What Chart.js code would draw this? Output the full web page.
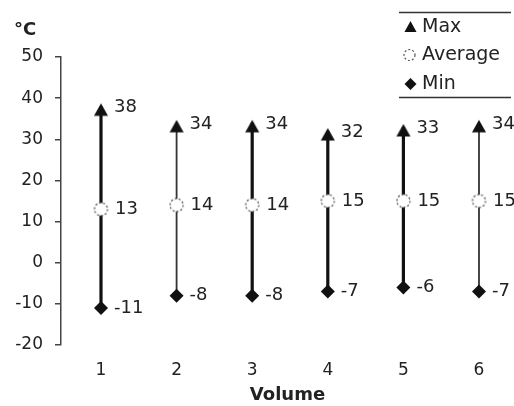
<!DOCTYPE html>
<html>
<head>
<meta charset="utf-8">
<script src="https://cdn.jsdelivr.net/npm/chart.js@4.4.0/dist/chart.umd.min.js"></script>
<style>
    html, body { margin: 0; padding: 0; background: #fff; }
    canvas { display: block; }
</style>
</head>
<body>
<canvas id="grafico" width="514" height="406"></canvas>
<script>
// Dados do gráfico
var volumes = [1, 2, 3, 4, 5, 6];
var maximos = [38, 34, 34, 32, 33, 34];
var medias = [13, 14, 14, 15, 15, 15];
var minimos = [-11, -8, -8, -7, -6, -7];
var ticksY = [-20, -10, 0, 10, 20, 30, 40, 50];
var nomesSeries = ['Max', 'Average', 'Min'];

// Estilo das linhas verticais (grossa / fina)
var espessuras = [3.2, 1.8, 3.2, 3.2, 3.2, 1.8];
var coresLinhas = ['#111', '#333', '#111', '#111', '#111', '#333'];

var fonte = '"DejaVu Sans", "Liberation Sans", Arial, sans-serif';
var corTexto = '#222';

// Limites do eixo x (a área do gráfico vai até a borda direita)
var xMin = 0.471;
var xMax = 6.463;

// Marcador triângulo (a ponta fica um pouco acima do valor, como no original)
function criarTriangulo(w, h, topo) {
    var c = document.createElement('canvas');
    c.width = w + 2;
    c.height = 26;
    var g = c.getContext('2d');
    var cx = c.width / 2;
    var cy = c.height / 2;
    g.fillStyle = '#111';
    g.beginPath();
    g.moveTo(cx, cy - topo);
    g.lineTo(cx + w / 2, cy - topo + h);
    g.lineTo(cx - w / 2, cy - topo + h);
    g.closePath();
    g.fill();
    return c;
}

// Marcador círculo tracejado
function criarCirculo(r) {
    var tam = Math.ceil(2 * r + 4);
    var c = document.createElement('canvas');
    c.width = tam;
    c.height = tam;
    var g = c.getContext('2d');
    g.beginPath();
    g.arc(tam / 2, tam / 2, r, 0, Math.PI * 2);
    g.fillStyle = '#fff';
    g.fill();
    g.setLineDash([2, 2]);
    g.lineWidth = 1.3;
    g.strokeStyle = '#555';
    g.stroke();
    return c;
}

var triangulo = criarTriangulo(14, 12.5, 3);
var circulo = criarCirculo(6.5);

function pontos(valores) {
    return volumes.map(function (v, i) {
        return { x: v, y: valores[i] };
    });
}

var datasets = [
    { label: nomesSeries[0], data: pontos(maximos), pointStyle: triangulo, pointRadius: 8, order: 0 },
    { label: nomesSeries[1], data: pontos(medias), pointStyle: circulo, pointRadius: 7, order: 0 },
    {
        label: nomesSeries[2], data: pontos(minimos), pointStyle: 'rectRot', pointRadius: 7,
        pointBackgroundColor: '#111', pointBorderColor: '#111', pointBorderWidth: 0, order: 0
    }
];

// Uma linha vertical por volume, do mínimo ao máximo
volumes.forEach(function (v, i) {
    datasets.push({
        label: 'faixa ' + v,
        data: [{ x: v, y: minimos[i] }, { x: v, y: maximos[i] }],
        showLine: true,
        pointRadius: 0,
        borderColor: coresLinhas[i],
        borderWidth: espessuras[i],
        order: 1
    });
});

// Rótulos de valor ao lado de cada marcador
var pluginRotulos = {
    id: 'rotulos',
    afterDatasetsDraw: function (chart) {
        var ctx = chart.ctx;
        var series = [maximos, medias, minimos];
        var deslocX = [13, 14, 13];
        var deslocY = [1, 0, 0];
        ctx.save();
        ctx.font = '18px ' + fonte;
        ctx.fillStyle = corTexto;
        ctx.textAlign = 'left';
        ctx.textBaseline = 'middle';
        series.forEach(function (valores, s) {
            var meta = chart.getDatasetMeta(s);
            meta.data.forEach(function (pt, i) {
                ctx.fillText(String(valores[i]), pt.x + deslocX[s], pt.y + deslocY[s]);
            });
        });
        ctx.restore();
    }
};

// Legenda desenhada à mão no canto superior direito
var pluginLegenda = {
    id: 'legenda',
    afterDraw: function (chart) {
        var ctx = chart.ctx;
        var linhasY = [27, 55, 84];
        ctx.save();
        ctx.strokeStyle = '#333';
        ctx.lineWidth = 1.5;
        ctx.beginPath();
        ctx.moveTo(399, 12.5);
        ctx.lineTo(511, 12.5);
        ctx.moveTo(399, 97.5);
        ctx.lineTo(511, 97.5);
        ctx.stroke();

        // triângulo
        ctx.fillStyle = '#111';
        ctx.beginPath();
        ctx.moveTo(410.5, linhasY[0] - 6);
        ctx.lineTo(416.5, linhasY[0] + 5);
        ctx.lineTo(404.5, linhasY[0] + 5);
        ctx.closePath();
        ctx.fill();

        // círculo tracejado
        ctx.beginPath();
        ctx.arc(409.5, linhasY[1], 5.5, 0, Math.PI * 2);
        ctx.fillStyle = '#fff';
        ctx.fill();
        ctx.setLineDash([2, 2]);
        ctx.lineWidth = 1.2;
        ctx.strokeStyle = '#555';
        ctx.stroke();
        ctx.setLineDash([]);

        // losango
        ctx.fillStyle = '#111';
        ctx.beginPath();
        ctx.moveTo(410.5, linhasY[2] - 6);
        ctx.lineTo(416.5, linhasY[2]);
        ctx.lineTo(410.5, linhasY[2] + 6);
        ctx.lineTo(404.5, linhasY[2]);
        ctx.closePath();
        ctx.fill();

        ctx.font = '19px ' + fonte;
        ctx.fillStyle = corTexto;
        ctx.textAlign = 'left';
        ctx.textBaseline = 'middle';
        nomesSeries.forEach(function (nome, i) {
            ctx.fillText(nome, 422, linhasY[i]);
        });
        ctx.restore();
    }
};

var ctx = document.getElementById('grafico').getContext('2d');
var grafico = new Chart(ctx, {
    type: 'scatter',
    data: { datasets: datasets },
    plugins: [pluginRotulos, pluginLegenda],
    options: {
        responsive: false,
        animation: false,
        devicePixelRatio: 1,
        events: [],
        layout: {
            autoPadding: false,
            padding: { left: 14, right: 0, top: 0, bottom: 0 }
        },
        plugins: {
            legend: { display: false },
            tooltip: { enabled: false },
            title: {
                display: true,
                text: '°C',
                align: 'start',
                color: corTexto,
                font: { family: fonte, size: 18, weight: 'bold' },
                padding: { top: 20, bottom: 15.4 }
            }
        },
        scales: {
            x: {
                type: 'linear',
                position: 'bottom',
                min: xMin,
                max: xMax,
                afterBuildTicks: function (scale) {
                    scale.ticks = volumes.map(function (v) { return { value: v }; });
                },
                afterFit: function (scale) {
                    scale.height = 61;
                    scale.paddingLeft = 0;
                    scale.paddingRight = 0;
                },
                grid: { display: false },
                border: { display: false },
                ticks: {
                    color: corTexto,
                    font: { family: fonte, size: 17 },
                    padding: 7,
                    callback: function (v) { return String(v); }
                },
                title: {
                    display: true,
                    text: 'Volume',
                    color: corTexto,
                    font: { family: fonte, size: 18, weight: 'bold' },
                    padding: { top: 0, bottom: 0 }
                }
            },
            y: {
                min: ticksY[0],
                max: ticksY[ticksY.length - 1],
                afterBuildTicks: function (scale) {
                    scale.ticks = ticksY.map(function (v) { return { value: v }; });
                },
                afterFit: function (scale) {
                    scale.width = 47;
                },
                grid: {
                    drawOnChartArea: false,
                    drawTicks: true,
                    tickLength: 6,
                    color: '#444',
                    lineWidth: 1.5
                },
                border: { display: true, color: '#444', width: 1.5 },
                ticks: {
                    color: corTexto,
                    font: { family: fonte, size: 17 },
                    padding: 12
                }
            }
        }
    }
});
</script>
</body>
</html>
